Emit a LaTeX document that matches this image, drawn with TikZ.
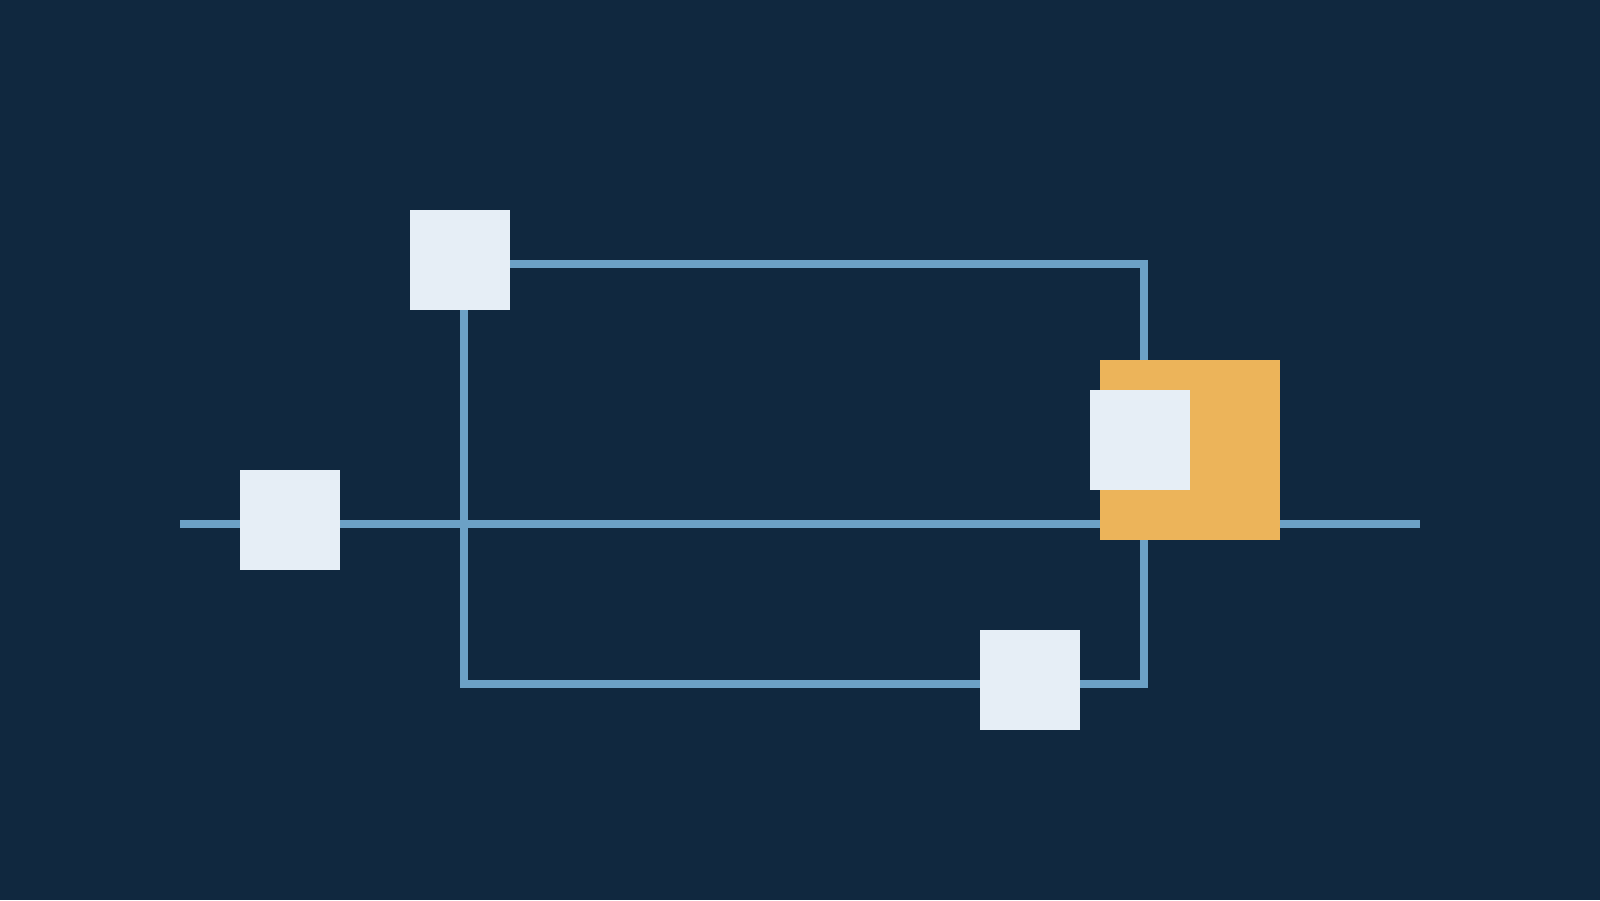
\documentclass[tikz,border=0pt]{standalone}
\usetikzlibrary{positioning}
\definecolor{navy}{HTML}{10283F}
\definecolor{wireblue}{HTML}{6CA1C6}
\definecolor{boxwhite}{HTML}{E6EEF6}
\definecolor{accent}{HTML}{ECB45A}
\pgfdeclarelayer{back}
\pgfdeclarelayer{wires}
\pgfsetlayers{back,wires,main}

\begin{document}
\begin{tikzpicture}[x=1pt,y=-1pt]
  \tikzset{box/.style={fill=boxwhite,minimum size=100pt,inner sep=0pt,outer sep=0pt}}
  \tikzset{wire/.style={draw=wireblue,line width=8pt}}

  \begin{pgfonlayer}{back}
    \fill[navy] (0,0) rectangle (1600,900);
  \end{pgfonlayer}
  \useasboundingbox (0,0) rectangle (1600,900);

  \node[box] (a) at (290,520) {};
  \node[box] (b) at (460,260) {};
  \node[box,fill=accent,minimum size=180pt] (c) at (1190,450) {};
  \node[box] (d) at (1140,440) {};
  \node[box] (e) at (1030,680) {};

  \coordinate (w) at (180,524);
  \coordinate (x) at (1420,524);
  \coordinate (tr) at (1144,264);
  \coordinate (bl) at (464,684);
  \coordinate (br) at (1144,684);

  \begin{pgfonlayer}{wires}
    \draw[wire] (w) -- (x);
    \draw[wire,line cap=rect] (b.east |- tr) -- (tr);
    \draw[wire,line cap=rect] (b.south -| bl) -- (bl);
    \draw[wire,line cap=rect] (tr) -- (br);
    \draw[wire,line cap=rect] (bl) -- (br);
  \end{pgfonlayer}
\end{tikzpicture}
\end{document}
